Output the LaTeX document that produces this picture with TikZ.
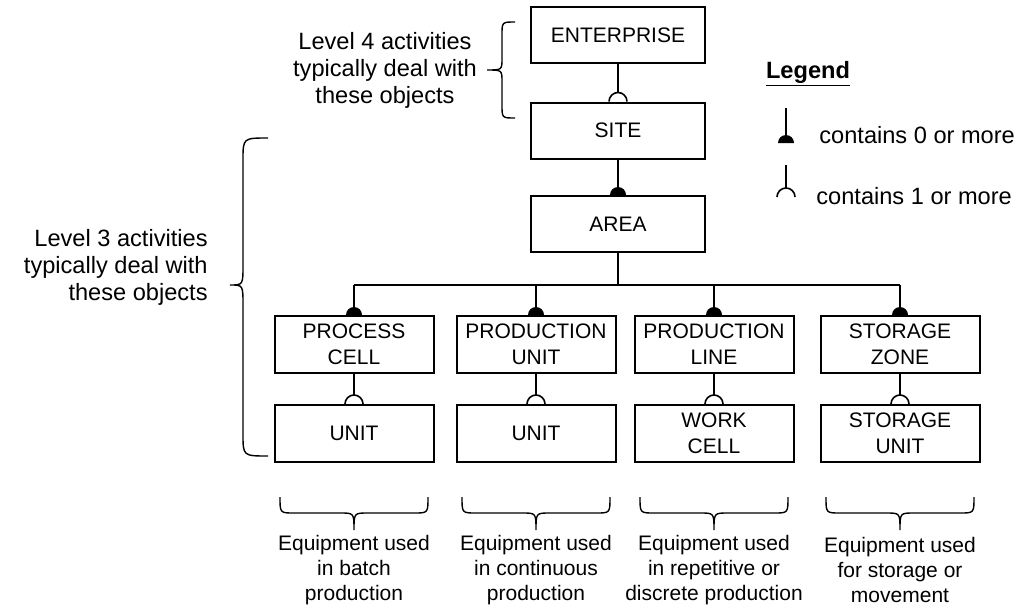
\documentclass[tikz,border=0pt]{standalone}
\usepackage{fontspec}
\setmainfont{Liberation Sans}
\usetikzlibrary{calc}
\tikzset{
  objbox/.style={draw, line width=1pt, align=center, inner sep=0pt,
    font=\fontsize{10.5}{13}\selectfont},
  topbox/.style={objbox, minimum width=87pt, minimum height=28pt},
  rowbox/.style={objbox, minimum width=79.5pt, minimum height=28.5pt},
  conn/.style={line width=0.8pt},
  bracestyle/.style={line width=0.7pt},
  bigtext/.style={align=center, inner sep=0pt, font=\fontsize{11.8}{13.5}\selectfont},
  smalltext/.style={align=center, inner sep=0pt, font=\fontsize{10.5}{12.5}\selectfont},
}
\begin{document}
\begin{tikzpicture}[x=0.5pt, y=-0.5pt]
\useasboundingbox (0,0) rectangle (1028,611);

% top column
\node[topbox] (ent) at (618,35) {ENTERPRISE};
\node[topbox] (site) at (618,130.5) {SITE};
\node[topbox] (area) at (618,224) {AREA};

% row nodes
\node[rowbox] (pc) at (354,344.5) {PROCESS\\CELL};
\node[rowbox] (pu) at (536,344.5) {PRODUCTION\\UNIT};
\node[rowbox] (pl) at (714,344.5) {PRODUCTION\\LINE};
\node[rowbox] (sz) at (900,344.5) {STORAGE\\ZONE};
\node[rowbox] (u1) at (354,433.5) {UNIT};
\node[rowbox] (u2) at (536,433.5) {UNIT};
\node[rowbox] (wc) at (714,433.5) {WORK\\CELL};
\node[rowbox] (su) at (900,433.5) {STORAGE\\UNIT};

% enterprise -> site (1 or more)
\draw[conn] (ent.south) -- ($(site.north)+(0,-9)$);
\draw[conn] (site.north) ++(-9,0) arc[start angle=180, end angle=0, radius=4.5pt];
% site -> area (0 or more)
\draw[conn] (site.south) -- ($(area.north)+(0,-8)$);
\fill (area.north) ++(-8,0) arc[start angle=180, end angle=0, radius=4pt] -- cycle;

% bus
\draw[conn] (area.south) -- ++(0,32) coordinate (bus);
\draw[conn] (pc.north |- bus) -- (sz.north |- bus);
\foreach \n in {pc,pu,pl,sz}{
  \draw[conn] (\n.north |- bus) -- ($(\n.north)+(0,-8)$);
  \fill (\n.north) ++(-8,0) arc[start angle=180, end angle=0, radius=4pt] -- cycle;
}
% lower (1 or more)
\foreach \a/\b in {pc/u1,pu/u2,pl/wc,sz/su}{
  \draw[conn] (\a.south) -- ($(\b.north)+(0,-9)$);
  \draw[conn] (\b.north) ++(-9,0) arc[start angle=180, end angle=0, radius=4.5pt];
}

% legend
\node[inner sep=0pt, font=\fontsize{11.8}{13.5}\selectfont\bfseries] (leg) at (808,74) {\underline{Legend}};
\coordinate (l1t) at (786,108);
\coordinate (l1b) at (786,143);
\draw[conn] (l1t) -- (l1b);
\fill (l1b) ++(-8,0) arc[start angle=180, end angle=0, radius=4pt] -- cycle;
\node[bigtext, anchor=west] (l1) at (819,135) {contains 0 or more};
\coordinate (l2t) at (786,165);
\coordinate (l2b) at (786,197);
\draw[conn] (l2t) -- ($(l2b)+(0,-9)$);
\draw[conn] (l2b) ++(-9,0) arc[start angle=180, end angle=0, radius=4.5pt];
\node[bigtext, anchor=west] (l2) at (816,196) {contains 1 or more};

% level 4
\node[bigtext] (lv4) at (385,70) {Level 4 activities\\typically deal with\\these objects};
\draw[bracestyle] (515,22) .. controls (502,22) .. (502,35) -- (502,58)
  .. controls (502,70) .. (487,70) .. controls (502,70) .. (502,82) -- (502,105)
  .. controls (502,118) .. (515,118);

% level 3
\node[bigtext, align=right, anchor=east] (lv3) at (208,267) {Level 3 activities\\typically deal with\\these objects};
\draw[bracestyle] (268,138) .. controls (243,138) .. (243,160) -- (243,265)
  .. controls (243,285) .. (230,285) .. controls (243,285) .. (243,305) -- (243,434)
  .. controls (243,456) .. (268,456);

% bottom braces
\foreach \c in {354,536,714,900}{
  \draw[bracestyle] ({\c-74},497) .. controls ({\c-74},513) .. ({\c-60},513) -- ({\c-14},513)
    .. controls (\c,513) .. (\c,530) .. controls (\c,513) .. ({\c+14},513) -- ({\c+60},513)
    .. controls ({\c+74},513) .. ({\c+74},497);
}
\node[smalltext] (t1) at (354,570) {Equipment used\\in batch\\production};
\node[smalltext] (t2) at (536,570) {Equipment used\\in continuous\\production};
\node[smalltext] (t3) at (714,570) {Equipment used\\in repetitive or\\discrete production};
\node[smalltext] (t4) at (900,570) {Equipment used\\for storage or\\movement};
\end{tikzpicture}
\end{document}
